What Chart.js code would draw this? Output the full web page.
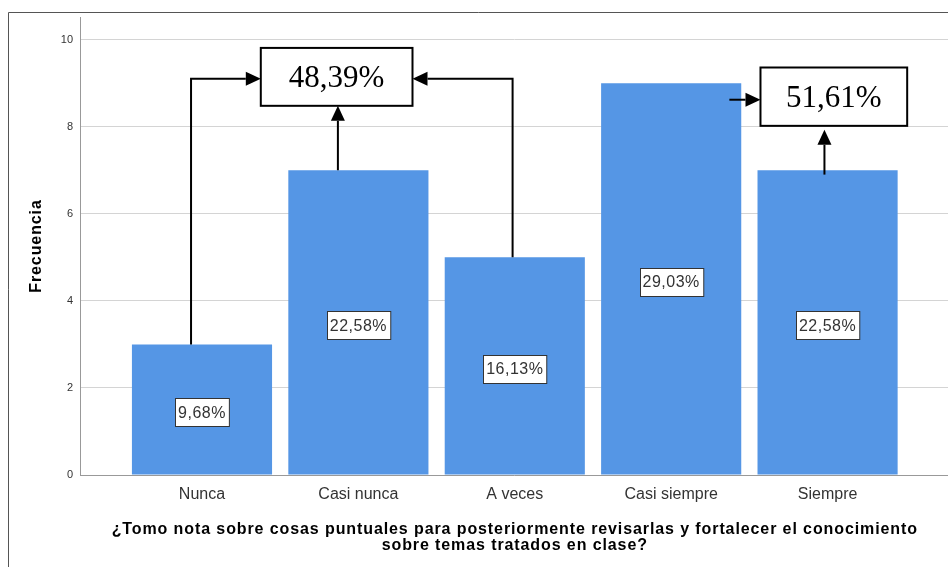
<!DOCTYPE html>
<html>
<head>
<meta charset="utf-8">
<script src="https://cdn.jsdelivr.net/npm/chart.js@4.4.1/dist/chart.umd.min.js"></script>
<style>
  html, body { margin: 0; padding: 0; background: #fff; }
  #wrap { width: 948px; height: 567px; position: relative; }
</style>
</head>
<body>
<div id="wrap"><canvas id="myChart"></canvas></div>
<script>
var categorias = ['Nunca', 'Casi nunca', 'A veces', 'Casi siempre', 'Siempre'];
var frecuencia = [3, 7, 5, 9, 7];
var porcentajes = ['9,68%', '22,58%', '16,13%', '29,03%', '22,58%'];
var yTicks = [0, 2, 4, 6, 8, 10];
var grupos = ['48,39%', '51,61%'];

var tituloY = 'Frecuencia';
var tituloX = ['¿Tomo nota sobre cosas puntuales para posteriormente revisarlas y fortalecer el conocimiento',
    'sobre temas tratados en clase?'];

// boxes and arrows, in data units (x: category position, y: frecuencia)
var cajas = [
    {text: grupos[0], x0: 1.376, x1: 2.346, y0: 8.48, y1: 9.81},
    {text: grupos[1], x0: 4.571, x1: 5.509, y0: 8.02, y1: 9.36}
];
var flechas = [
    [[0.93, 3], [0.93, 9.1], [1.376, 9.1]],
    [[1.869, 7], [1.869, 8.48]],
    [[2.986, 5], [2.986, 9.1], [2.346, 9.1]],
    [[4.372, 8.62], [4.571, 8.62]],
    [[4.98, 6.9], [4.98, 7.93]]
];

var sans = '"Liberation Sans", Arial, sans-serif';

function drawArrow(ctx, pts) {
    ctx.save();
    ctx.strokeStyle = '#000';
    ctx.fillStyle = '#000';
    ctx.lineWidth = 2;
    var n = pts.length;
    var a = pts[n - 2], b = pts[n - 1];
    var ang = Math.atan2(b[1] - a[1], b[0] - a[0]);
    var head = 15;
    ctx.beginPath();
    ctx.moveTo(pts[0][0], pts[0][1]);
    for (var i = 1; i < n - 1; i++) ctx.lineTo(pts[i][0], pts[i][1]);
    ctx.lineTo(b[0] - Math.cos(ang) * head, b[1] - Math.sin(ang) * head);
    ctx.stroke();
    ctx.beginPath();
    ctx.moveTo(b[0], b[1]);
    ctx.lineTo(b[0] - Math.cos(ang) * head + Math.sin(ang) * 7, b[1] - Math.sin(ang) * head - Math.cos(ang) * 7);
    ctx.lineTo(b[0] - Math.cos(ang) * head - Math.sin(ang) * 7, b[1] - Math.sin(ang) * head + Math.cos(ang) * 7);
    ctx.closePath();
    ctx.fill();
    ctx.restore();
}

var extras = {
    id: 'extras',
    beforeDraw: function (chart) {
        var ctx = chart.ctx;
        ctx.save();
        ctx.strokeStyle = '#555';
        ctx.lineWidth = 1;
        ctx.beginPath();
        ctx.moveTo(8.5, 567);
        ctx.lineTo(8.5, 12.5);
        ctx.lineTo(948, 12.5);
        ctx.stroke();
        ctx.restore();
    },
    afterDatasetsDraw: function (chart) {
        var ctx = chart.ctx;
        var xs = chart.scales.x, ys = chart.scales.y;
        var meta = chart.getDatasetMeta(0);

        // percentage labels inside bars
        ctx.save();
        ctx.font = '16px ' + sans;
        ctx.letterSpacing = '0.5px';
        ctx.textAlign = 'center';
        ctx.textBaseline = 'middle';
        meta.data.forEach(function (bar, i) {
            var cy = (bar.y + bar.base) / 2 + 3;
            var w = ctx.measureText(porcentajes[i]).width + 6;
            var h = 28;
            var left = Math.round(bar.x - w / 2) + 0.5, top = Math.round(cy - h / 2) + 0.5;
            ctx.fillStyle = '#fff';
            ctx.fillRect(left, top, w, h);
            ctx.strokeStyle = '#333';
            ctx.lineWidth = 1;
            ctx.strokeRect(left, top, w, h);
            ctx.fillStyle = '#333';
            ctx.fillText(porcentajes[i], bar.x, cy + 1);
        });
        ctx.restore();

        // arrows
        flechas.forEach(function (f) {
            drawArrow(ctx, f.map(function (p) {
                return [xs.getPixelForValue(p[0]), ys.getPixelForValue(p[1])];
            }));
        });

        // group boxes
        ctx.save();
        ctx.font = '31px "Liberation Serif", "Times New Roman", serif';
        ctx.textAlign = 'center';
        ctx.textBaseline = 'middle';
        cajas.forEach(function (c) {
            var l = xs.getPixelForValue(c.x0), r = xs.getPixelForValue(c.x1);
            var t = ys.getPixelForValue(c.y1), b = ys.getPixelForValue(c.y0);
            ctx.fillStyle = '#fff';
            ctx.fillRect(l, t, r - l, b - t);
            ctx.strokeStyle = '#000';
            ctx.lineWidth = 2;
            ctx.strokeRect(l, t, r - l, b - t);
            ctx.fillStyle = '#000';
            ctx.fillText(c.text, (l + r) / 2, (t + b) / 2 + 2);
        });
        ctx.restore();

        // axis titles
        ctx.save();
        ctx.font = 'bold 16px ' + sans;
        ctx.letterSpacing = '0.9px';
        ctx.textAlign = 'center';
        ctx.textBaseline = 'middle';
        ctx.fillStyle = '#000';
        var cx = xs.getPixelForValue(3);
        ctx.fillText(tituloX[0], cx, 530);
        ctx.fillText(tituloX[1], cx, 546);
        ctx.translate(37, (ys.top + ys.bottom) / 2);
        ctx.rotate(-Math.PI / 2);
        ctx.fillText(tituloY, 0, 0);
        ctx.restore();
    }
};

var ctx = document.getElementById('myChart').getContext('2d');
var myChart = new Chart(ctx, {
    type: 'bar',
    data: {
        datasets: [{
            data: categorias.map(function (c, i) { return {x: i + 1, y: frecuencia[i]}; }),
            backgroundColor: '#5596e5',
            borderWidth: 0,
            barPercentage: 1,
            categoryPercentage: 0.896
        }]
    },
    options: {
        responsive: true,
        maintainAspectRatio: false,
        animation: false,
        layout: {padding: {top: 17, left: 0, right: 0, bottom: 0}},
        plugins: {legend: {display: false}, tooltip: {enabled: false}},
        scales: {
            x: {
                type: 'linear',
                offset: false,
                min: 0.22,
                max: 5.77,
                grid: {display: false, drawTicks: false},
                border: {display: true, color: '#999', width: 1},
                afterBuildTicks: function (scale) {
                    scale.ticks = categorias.map(function (c, i) { return {value: i + 1}; });
                },
                afterFit: function (scale) { scale.height = 92; },
                ticks: {
                    autoSkip: false,
                    maxRotation: 0,
                    padding: 10,
                    color: '#333',
                    font: {family: sans, size: 16},
                    callback: function (v) { return categorias[v - 1]; }
                }
            },
            y: {
                min: 0,
                max: 10.52,
                grid: {color: '#d4d4d4', drawTicks: false},
                border: {display: true, color: '#999', width: 1},
                afterBuildTicks: function (scale) {
                    scale.ticks = yTicks.map(function (v) { return {value: v}; });
                },
                afterFit: function (scale) { scale.width = 80; },
                ticks: {
                    padding: 7,
                    color: '#333',
                    font: {family: sans, size: 11}
                }
            }
        }
    },
    plugins: [extras]
});
</script>
</body>
</html>
